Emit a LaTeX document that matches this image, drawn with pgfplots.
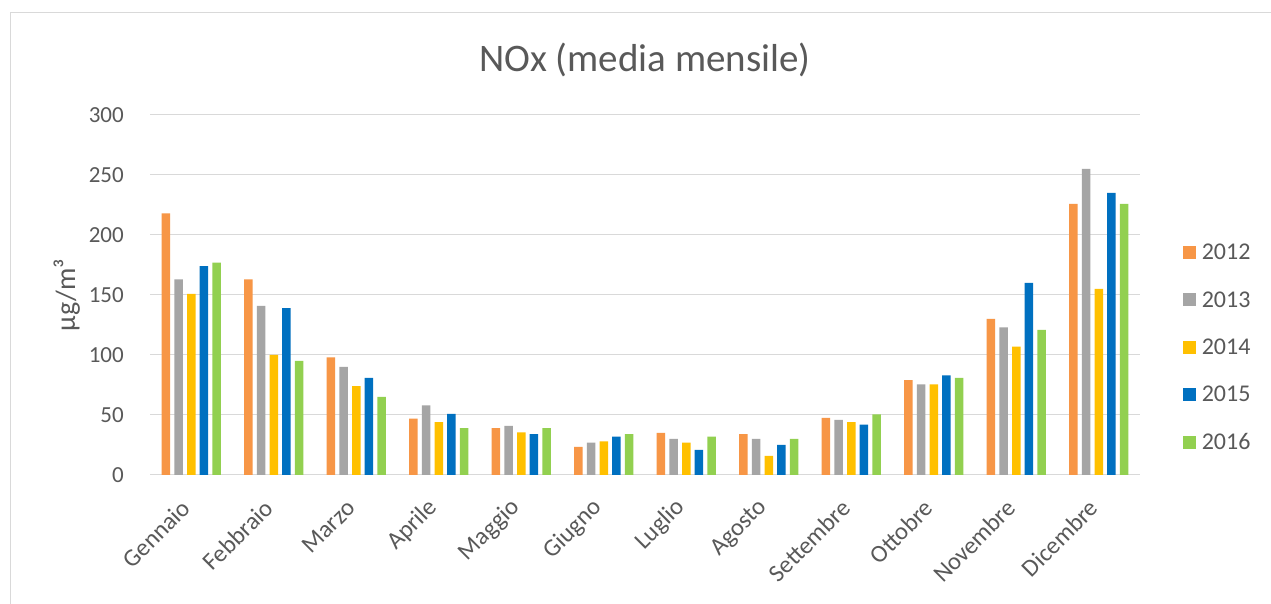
\documentclass[border=0pt]{standalone}
\usepackage{fontspec}
\setmainfont{Carlito}
\usepackage{pgfplots}
\pgfplotsset{compat=1.18}

\definecolor{c2012}{HTML}{F79646}
\definecolor{c2013}{HTML}{A5A5A5}
\definecolor{c2014}{HTML}{FFC000}
\definecolor{c2015}{HTML}{0070C0}
\definecolor{c2016}{HTML}{92D050}
\definecolor{txtgray}{HTML}{595959}
\definecolor{gridgray}{HTML}{D9D9D9}
\definecolor{framegray}{HTML}{D9D9D9}

% monthly mean NOx, one row per month (0 = Gennaio ... 11 = Dicembre)
\pgfplotstableread{
m  y2012 y2013 y2014 y2015 y2016
0  218   163   151   174   177
1  163   141   100   139   95
2  98    90    74    81    65
3  47    58    44    51    39
4  39    41    35.5  34    39
5  23.5  27    28    32    34
6  35    30    27    21    32
7  34    30    16    25    30
8  47.5  46    44    42    50.5
9  79    75.5  75.5  83    81
10 130   123   107   160   121
11 226   255   155   235   226
}\noxdata

\begin{document}
\begin{tikzpicture}[x=1pt,y=1pt]
\useasboundingbox (0,0) rectangle (1271,604);
\fill[white] (0,0) rectangle (1271,604);
\draw[framegray, line width=1pt] (10.5,-10) -- (10.5,591.5) -- (1290,591.5);
\begin{axis}[
  at={(150pt,129pt)}, anchor=south west,
  scale only axis, width=990pt, height=360pt,
  ybar=4.2pt, bar width=8.5pt,
  xmin=-0.5, xmax=11.5, ymin=0, ymax=300,
  xtick={0,...,11},
  xticklabels={Gennaio,Febbraio,Marzo,Aprile,Maggio,Giugno,Luglio,Agosto,Settembre,Ottobre,Novembre,Dicembre},
  ytick={0,50,...,300},
  major tick length=0pt,
  axis line style={draw=none},
  ymajorgrids, grid style={gridgray, line width=1pt},
  /pgf/number format/assume math mode=true,
  tick label style={font=\fontsize{23}{26}\selectfont, text=txtgray},
  yticklabel style={inner sep=0pt, xshift=-26pt, anchor=east},
  xticklabel style={font=\fontsize{24.5}{27}\selectfont, xshift=-5pt, yshift=-29pt, rotate=45, anchor=east, inner sep=0pt},
  ylabel={µg/m³},
  ylabel style={at={(rel axis cs:-0.084,0.5)}, anchor=center, font=\fontsize{28}{30}\selectfont, text=txtgray},
  title={NOx (media mensile)},
  title style={at={(rel axis cs:0.5,1.135)}, anchor=center, font=\fontsize{39}{42}\selectfont, text=txtgray},
  legend style={at={(rel axis cs:1.040,0.354)}, anchor=west, draw=none, fill=none,
    font=\fontsize{24}{26}\selectfont, text=txtgray, row sep=26.2pt,
    nodes={inner sep=2pt},
    /tikz/every odd column/.append style={column sep=4pt}},
  legend cell align=left,
  legend image code/.code={%
    \fill[#1, draw=none] (0pt,-6.5pt) rectangle (13pt,6.5pt);},
]
\addplot[fill=c2012, draw=none] table[x=m, y=y2012] {\noxdata};
\addplot[fill=c2013, draw=none] table[x=m, y=y2013] {\noxdata};
\addplot[fill=c2014, draw=none] table[x=m, y=y2014] {\noxdata};
\addplot[fill=c2015, draw=none] table[x=m, y=y2015] {\noxdata};
\addplot[fill=c2016, draw=none] table[x=m, y=y2016] {\noxdata};
\legend{2012,2013,2014,2015,2016}
\end{axis}
\end{tikzpicture}
\end{document}
